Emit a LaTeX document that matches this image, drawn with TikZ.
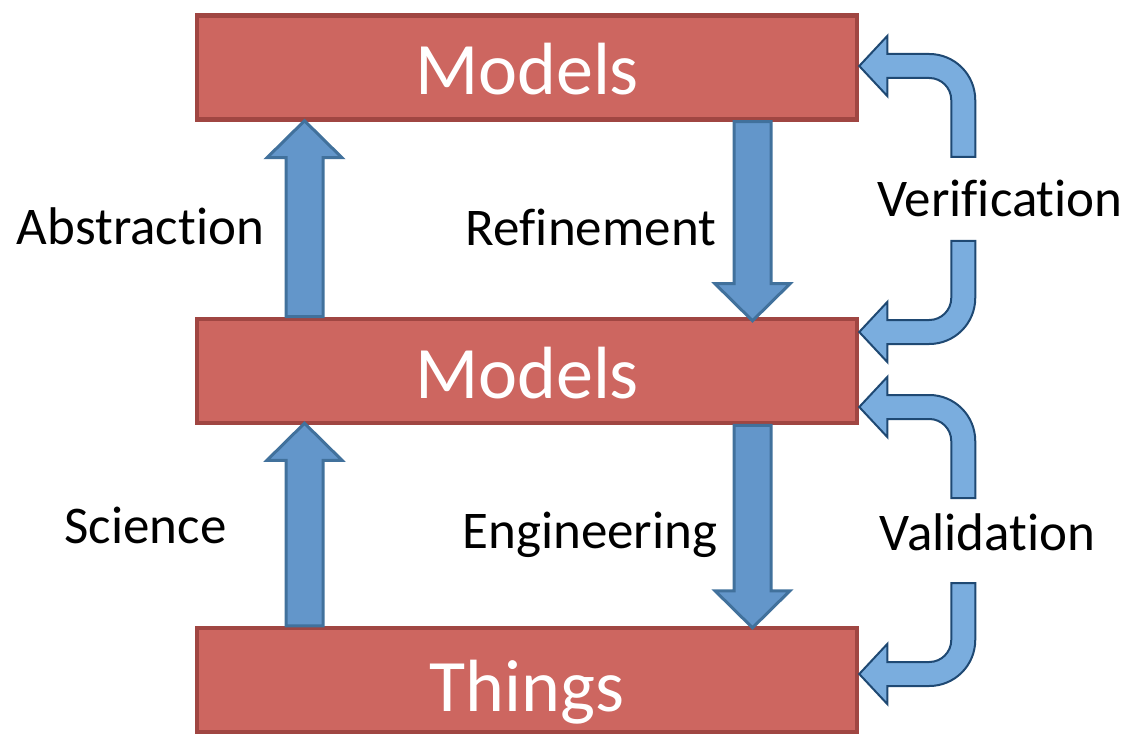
\documentclass[tikz,border=0pt]{standalone}
\usepackage{fontspec}
\setmainfont{Carlito}[Ligatures = NoCommon]
\usetikzlibrary{calc}

\definecolor{boxfill}{RGB}{205,102,96}
\definecolor{boxline}{RGB}{160,70,66}
\definecolor{blockfill}{RGB}{99,150,202}
\definecolor{blockline}{RGB}{65,113,156}
\definecolor{bentfill}{RGB}{122,173,222}
\definecolor{bentline}{RGB}{31,73,115}

\tikzset{
	level/.style = {draw = boxline, fill = boxfill, line width = 4.5pt, minimum width = 660pt, minimum height = 104pt, inner sep = 0pt, text = white, font = \fontsize{74}{74}\selectfont, text height = 54pt, text depth = 0pt},
	arrowtext/.style = {anchor = base, inner sep = 0pt, font = \fontsize{53}{53}\selectfont},
	blockarrow/.style = {draw = blockline, fill = blockfill, line width = 3pt},
	bentarrow/.style = {draw = bentline, fill = bentfill, line width = 2pt}
}

% Straight block arrow from #1 to tip #2
\newcommand\blockarrow[2]{
	\coordinate (neck) at ($(#2)!37pt!(#1)$);
	\draw [blockarrow] ($(#1)!18.5pt!90:(#2)$) -- ($(neck)!18.5pt!90:(#2)$) -- ($(neck)!37.5pt!90:(#2)$) -- (#2) -- ($(neck)!37.5pt!-90:(#2)$) -- ($(neck)!18.5pt!-90:(#2)$) -- ($(#1)!18.5pt!-90:(#2)$) -- cycle;
}

% Bent arrow with tip at #1, turned up (1) or down (-1) by #2
\newcommand\bentarrow[2]{
	\begin{scope}[shift = {(#1)}, yscale = #2]
		\draw [bentarrow] (92, -91) -- (116, -91) -- (116, -34) arc (0:90:46) -- (28, 12) -- (28, 30) -- (0, 0) -- (28, -30) -- (28, -12) -- (70, -12) arc (90:0:22) -- cycle;
	\end{scope}
}

\begin{document}
\begin{tikzpicture}[x = 1pt, y = 1pt]

	\useasboundingbox (0, 0) rectangle (1135, -735);

	% Boxes

	\node [level] (mtop) at (527, -67.5) {Models};
	\node [level] (mmid) at (527, -371) {Models};
	\node [level, text height = 62pt] (things) at (527, -680) {Things};

	% Straight arrows

	\coordinate (abs start) at ([xshift = -222.5pt] mmid.north);
	\coordinate (abs tip) at ([xshift = -222.5pt, yshift = 1pt] mtop.south);
	\coordinate (ref start) at ([xshift = 225.5pt] mtop.south);
	\coordinate (ref tip) at ([xshift = 225.5pt, yshift = -4pt] mmid.north);
	\coordinate (sci start) at ([xshift = -222.5pt] things.north);
	\coordinate (sci tip) at ([xshift = -222.5pt, yshift = 2pt] mmid.south);
	\coordinate (eng start) at ([xshift = 225.5pt] mmid.south);
	\coordinate (eng tip) at ([xshift = 225.5pt, yshift = -2pt] things.north);

	\blockarrow{abs start}{abs tip}
	\blockarrow{ref start}{ref tip}
	\blockarrow{sci start}{sci tip}
	\blockarrow{eng start}{eng tip}

	% Bent arrows

	\coordinate (ver top) at ([yshift = 1.5pt] mtop.east);
	\coordinate (ver bottom) at ([yshift = 39pt] mmid.east);
	\coordinate (val top) at ([yshift = -36pt] mmid.east);
	\coordinate (val bottom) at ([yshift = 6pt] things.east);

	\bentarrow{ver top}{1}
	\bentarrow{ver bottom}{-1}
	\bentarrow{val top}{1}
	\bentarrow{val bottom}{-1}

	% Labels

	\node [arrowtext] (abstraction) at (140.5, -245) {Abstraction};
	\node [arrowtext] (refinement) at (591, -246) {Refinement};
	\node [arrowtext] (verification) at (1000, -217) {Verification};
	\node [arrowtext] (science) at (145.5, -543) {Science};
	\node [arrowtext] (engineering) at (590, -548) {Engineering};
	\node [arrowtext] (validation) at (987.5, -550) {Validation};

\end{tikzpicture}
\end{document}
